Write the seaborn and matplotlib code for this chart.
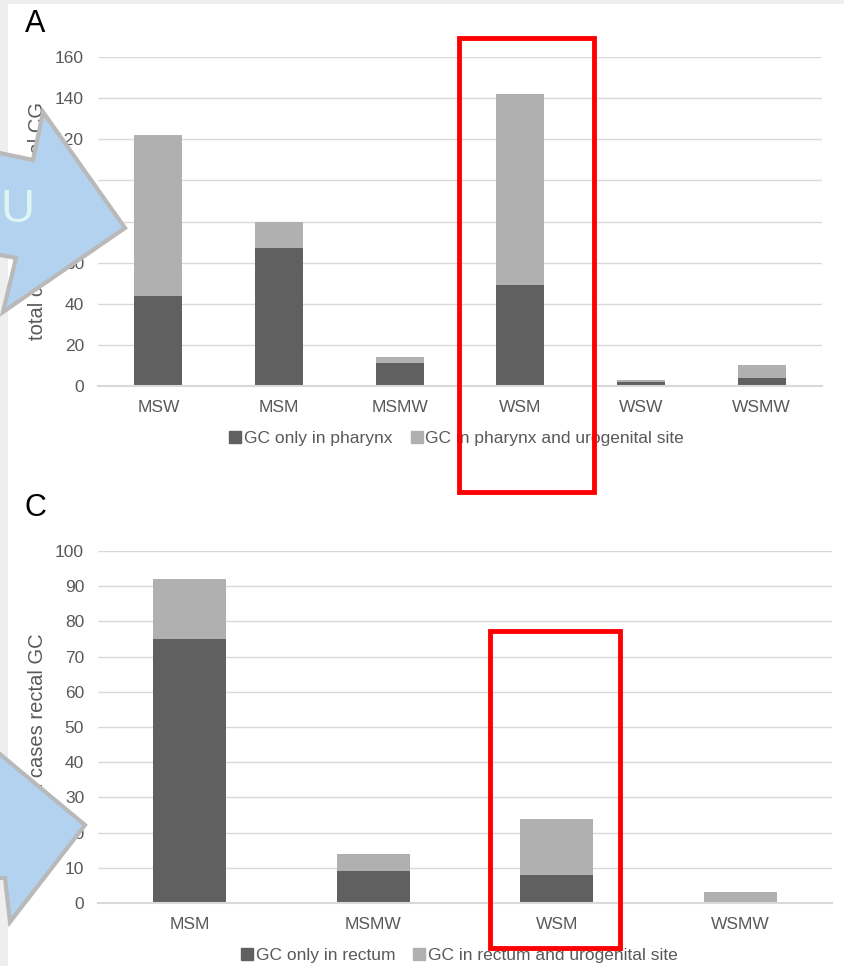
import matplotlib
matplotlib.use("Agg")
import matplotlib.pyplot as plt
import seaborn as sns
from matplotlib.lines import Line2D
from matplotlib.patches import Polygon, Rectangle

# panel A - pharyngeal GC
cats_a = ["MSW", "MSM", "MSMW", "WSM", "WSW", "WSMW"]
only_pharynx = [44, 67, 11, 49, 2, 4]
pharynx_uro = [78, 13, 3, 93, 1, 6]

# panel C - rectal GC
cats_c = ["MSM", "MSMW", "WSM", "WSMW"]
only_rectum = [75, 9, 8, 0]
rectum_uro = [17, 5, 16, 3]

dark = "#606060"
light = "#b0b0b0"
txt = "#595959"
grid = "#d9d9d9"

sns.set_style("white")
plt.rcParams["font.family"] = ["Liberation Sans", "DejaVu Sans"]

W, H = 844, 966
fig = plt.figure(figsize=(W / 100, H / 100), dpi=100)


def fx(px):
    return px / W


def fy(py):
    return 1 - py / H


def panel(rect, cats, lo, hi, ymax, step, ylabel, leg_labels, leg_xy):
    ax = fig.add_axes(rect)
    totals = [a + b for a, b in zip(lo, hi)]
    sns.barplot(x=cats, y=totals, color=light, width=0.4, saturation=1,
                linewidth=0, ax=ax, order=cats)
    sns.barplot(x=cats, y=lo, color=dark, width=0.4, saturation=1,
                linewidth=0, ax=ax, order=cats)
    ax.set_ylim(0, ymax)
    ax.set_xlim(-0.5, len(cats) - 0.5)
    ax.set_yticks(range(0, ymax + 1, step))
    ax.yaxis.grid(True, color=grid, lw=1)
    ax.set_axisbelow(True)
    for s in ["top", "right", "left"]:
        ax.spines[s].set_visible(False)
    ax.spines["bottom"].set_color(grid)
    ax.spines["bottom"].set_linewidth(1.5)
    ax.tick_params(axis="both", length=0, labelsize=12.5, labelcolor=txt)
    ax.tick_params(axis="x", pad=10)
    ax.tick_params(axis="y", pad=10)
    ax.set_xlabel("")
    ax.set_ylabel(ylabel, fontsize=14.5, color=txt)
    ax.yaxis.set_label_coords(-0.07, 0.5)
    handles = [Line2D([], [], marker="s", ls="none", color=c, markersize=8)
               for c in (dark, light)]
    ax.legend(handles, leg_labels, loc="center", bbox_to_anchor=leg_xy,
              ncol=2, frameon=False, fontsize=12.5, labelcolor=txt,
              handlelength=0.6, handletextpad=0.2, columnspacing=1.1)
    return ax


panel([fx(98), fy(386), fx(822) - fx(98), fy(57) - fy(386)],
      cats_a, only_pharynx, pharynx_uro, 160, 20,
      "total cases pharyngeal CG",
      ["GC only in pharynx", "GC in pharynx and urogenital site"],
      (0.496, -0.16))

panel([fx(98), fy(903), fx(832) - fx(98), fy(551) - fy(903)],
      cats_c, only_rectum, rectum_uro, 100, 10,
      "total cases rectal GC",
      ["GC only in rectum", "GC in rectum and urogenital site"],
      (0.493, -0.148))

# panel letters
fig.text(fx(25), fy(24), "A", fontsize=22, va="center", ha="left", color="black")
fig.text(fx(25), fy(508), "C", fontsize=22, va="center", ha="left", color="black")

# light frame strips
fig.add_artist(Rectangle((0, 0), fx(8), 1, transform=fig.transFigure,
                         color="#eeeeee", lw=0))
fig.add_artist(Rectangle((0, fy(4)), 1, fx(4), transform=fig.transFigure,
                         color="#eeeeee", lw=0))

# overlay arrows
arrow1 = [(-5, 152), (33, 160), (43, 112), (125, 228), (3, 312), (16, 258), (-5, 254)]
arrow2 = [(-5, 750), (85, 825), (10, 922), (5, 878), (-5, 878)]
for pts in (arrow1, arrow2):
    fig.add_artist(Polygon([(fx(x), fy(y)) for x, y in pts], closed=True,
                           transform=fig.transFigure, facecolor="#b3d2f0",
                           edgecolor="#b9b9b9", lw=3, zorder=10))
fig.text(fx(34), fy(210), "U", fontsize=34, color="#dff5f2", ha="right",
         va="center", zorder=11, fontweight="light")

# red highlight boxes
for x0, y0, x1, y1 in [(459, 38, 594, 492), (490, 631, 620, 948)]:
    fig.add_artist(Rectangle((fx(x0), fy(y1)), fx(x1) - fx(x0), fy(y0) - fy(y1),
                             transform=fig.transFigure, fill=False,
                             edgecolor="#ff0000", lw=3.5, zorder=12))

plt.savefig("out.png", dpi=100)
